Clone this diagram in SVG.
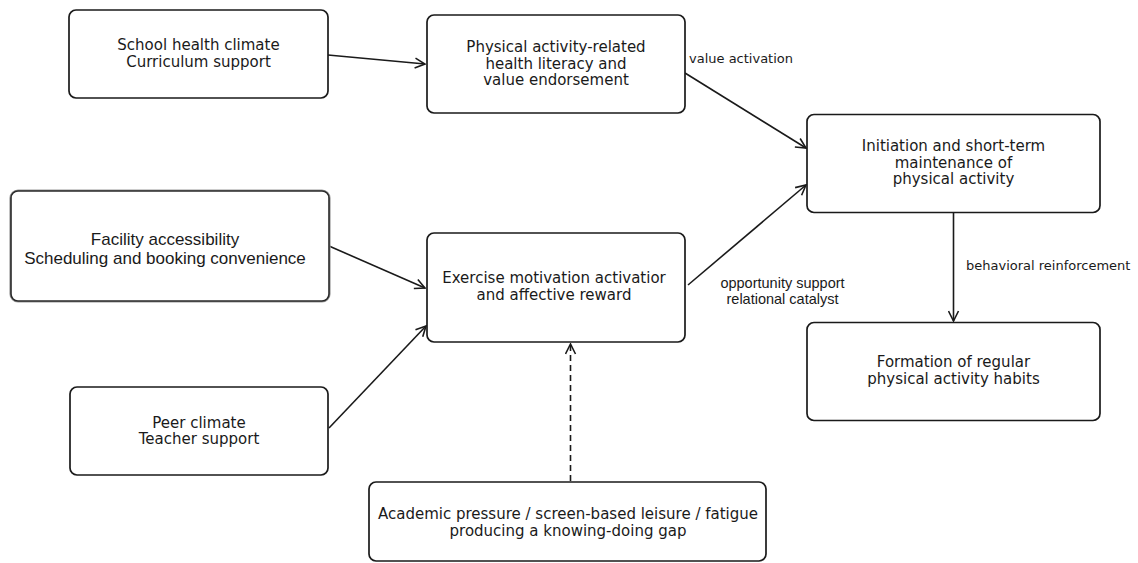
<svg xmlns="http://www.w3.org/2000/svg" width="1138" height="563" viewBox="0 0 1138 563">
<style>
.box{fill:#fff;stroke:#1a1a1a;stroke-width:1.7}
.t{font-family:"DejaVu Sans",sans-serif;font-size:15px;fill:#1a1a1a;text-anchor:middle}
.ta{font-family:"Liberation Sans",Arial,sans-serif;font-size:17px;fill:#1a1a1a;text-anchor:middle}
.lbl{font-family:"DejaVu Sans",sans-serif;font-size:13px;fill:#1a1a1a}
.lbla{font-family:"Liberation Sans",Arial,sans-serif;font-size:14.5px;fill:#1a1a1a;text-anchor:middle}
.e{fill:none;stroke:#1a1a1a;stroke-width:1.6;marker-end:url(#arr)}
.d{stroke-dasharray:6,4}
</style>
<defs>
<marker id="arr" viewBox="0 0 12 12" refX="11" refY="6" markerWidth="12" markerHeight="12" markerUnits="userSpaceOnUse" orient="auto">
<path d="M1,1 L11,6 L1,11" fill="none" stroke="#1a1a1a" stroke-width="1.6"/>
</marker>
</defs>
<rect width="1138" height="563" fill="#fff"/>
<g id="connectors">
<path class="e" d="M328,55 L425,64"/>
<path class="e" d="M329,246 L425,288"/>
<path class="e" d="M329,428 L426,326"/>
<path class="e" d="M685,73 L806,148"/>
<path class="e" d="M688,285 L806,185"/>
<path class="e" d="M953.5,212.5 L953.5,321"/>
<path class="e d" d="M570.5,481 L570.5,344"/>
<text class="lbl" x="689" y="63">value activation</text>
<text class="lbla" x="782.5" y="288">opportunity support</text>
<text class="lbla" x="782.5" y="304">relational catalyst</text>
<text class="lbl" x="966" y="270">behavioral reinforcement</text>
</g>
<g id="school">
<rect class="box" x="69" y="10" width="259" height="88" rx="7"/>
<text class="t" x="198.5" y="50">School health climate</text>
<text class="t" x="198.5" y="67">Curriculum support</text>
</g>
<g id="literacy">
<rect class="box" x="427" y="15" width="258" height="98" rx="7"/>
<text class="t" x="556" y="52">Physical activity-related</text>
<text class="t" x="556" y="68.5">health literacy and</text>
<text class="t" x="556" y="85">value endorsement</text>
</g>
<g id="facility">
<rect x="11" y="191" width="318" height="110" rx="7" fill="#fff" stroke="#9a9a9a" stroke-width="3.2"/>
<rect x="11" y="191" width="318" height="110" rx="7" fill="#fff" stroke="#2a2a2a" stroke-width="1.6"/>
<text class="ta" x="165" y="245">Facility accessibility</text>
<text class="ta" x="165" y="264">Scheduling and booking convenience</text>
</g>
<g id="motivation">
<rect class="box" x="427" y="233" width="258" height="109" rx="7"/>
<text class="t" x="554" y="283">Exercise motivation activatior</text>
<text class="t" x="554" y="300">and affective reward</text>
</g>
<g id="initiation">
<rect class="box" x="807" y="114.5" width="293" height="98" rx="7"/>
<text class="t" x="953.5" y="151">Initiation and short-term</text>
<text class="t" x="953.5" y="167.5">maintenance of</text>
<text class="t" x="953.5" y="184">physical activity</text>
</g>
<g id="habits">
<rect class="box" x="807" y="322.5" width="293" height="98" rx="7"/>
<text class="t" x="953.5" y="367">Formation of regular</text>
<text class="t" x="953.5" y="384">physical activity habits</text>
</g>
<g id="peer">
<rect class="box" x="70" y="387" width="258" height="88" rx="7"/>
<text class="t" x="199" y="427.5">Peer climate</text>
<text class="t" x="199" y="443.5">Teacher support</text>
</g>
<g id="barriers">
<rect class="box" x="369" y="482" width="397" height="79" rx="7"/>
<text class="t" x="568" y="519">Academic pressure / screen-based leisure / fatigue</text>
<text class="t" x="568" y="536">producing a knowing-doing gap</text>
</g>
</svg>
